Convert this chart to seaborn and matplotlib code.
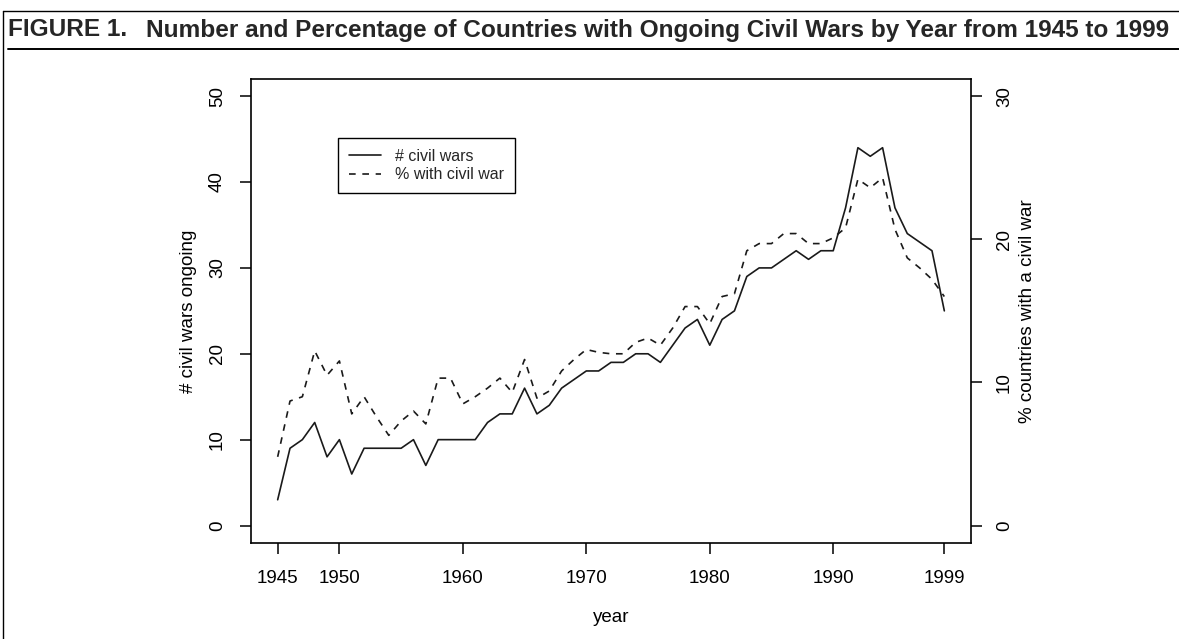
import matplotlib
matplotlib.use('Agg')
import matplotlib.pyplot as plt
import seaborn as sns
import pandas as pd
from matplotlib.lines import Line2D

# ---------------- data ----------------
years = list(range(1945, 2000))
n_civil_wars = [3, 9, 10, 12, 8, 10, 6, 9, 9, 9, 9, 10, 7, 10, 10, 10, 10, 12, 13, 13,
                16, 13, 14, 16, 17, 18, 18, 19, 19, 20, 20, 19, 21, 23, 24, 21, 24, 25,
                29, 30, 30, 31, 32, 31, 32, 32, 37, 44, 43, 44, 37, 34, 33, 32, 25]
pct_with_civil_war = [4.8, 8.7, 9.0, 12.2, 10.5, 11.5, 7.8, 9.0, 7.6, 6.3, 7.3, 8.0, 7.1,
                      10.3, 10.3, 8.5, 9.0, 9.6, 10.3, 9.3, 11.6, 8.9, 9.4, 10.8, 11.6,
                      12.3, 12.1, 12.0, 12.0, 12.8, 13.1, 12.6, 13.8, 15.3, 15.3, 14.1,
                      16.0, 16.2, 19.2, 19.7, 19.7, 20.4, 20.4, 19.7, 19.7, 20.1, 20.8,
                      24.2, 23.6, 24.3, 20.7, 18.7, 18.0, 17.2, 16.0]
x_ticks = [1945, 1950, 1960, 1970, 1980, 1990, 1999]
x_tick_labels = [str(v) for v in x_ticks]
left_ticks = [0, 10, 20, 30, 40, 50]
left_tick_labels = [str(v) for v in left_ticks]
right_ticks = [0, 10, 20, 30]
right_tick_labels = [str(v) for v in right_ticks]
legend_labels = ['# civil wars', '% with civil war']
title_head = 'FIGURE 1.'
title_body = 'Number and Percentage of Countries with Ongoing Civil Wars by Year from 1945 to 1999'

df = pd.DataFrame({'year': years, 'wars': n_civil_wars, 'pct': pct_with_civil_war})

# ---------------- style ----------------
sns.set_style('ticks')
plt.rcParams['font.family'] = ['Liberation Sans', 'DejaVu Sans']

W, H = 1179, 639
fig = plt.figure(figsize=(W / 100, H / 100), dpi=100)
fig.patch.set_facecolor('white')

ax = fig.add_axes([251 / W, 1 - 542.7 / H, 720 / W, 463.7 / H])
line_col = '#1a1a1a'
sns.lineplot(data=df, x='year', y='wars', ax=ax, color=line_col, linewidth=1.2,
             legend=False)
ax2 = ax.twinx()
sns.lineplot(data=df, x='year', y='pct', ax=ax2, color=line_col, linewidth=1.2,
             linestyle=(0, (4, 4)), legend=False)

# R-like ranges (4% padding)
span = years[-1] - years[0]
ax.set_xlim(years[0] - 0.04 * span, years[-1] + 0.04 * span)
ax.set_ylim(left_ticks[0] - 0.04 * (left_ticks[-1] - left_ticks[0]),
            left_ticks[-1] + 0.04 * (left_ticks[-1] - left_ticks[0]))
ax2.set_ylim(right_ticks[0] - 0.04 * (right_ticks[-1] - right_ticks[0]),
             right_ticks[-1] + 0.04 * (right_ticks[-1] - right_ticks[0]))

for s in ax.spines.values():
    s.set_visible(True)
    s.set_linewidth(1.2)
    s.set_color('black')
for s in ax2.spines.values():
    s.set_visible(False)

fs = 13.5
ax.set_xticks(x_ticks)
ax.set_xticklabels(x_tick_labels)
ax.set_yticks(left_ticks)
ax.set_yticklabels(left_tick_labels, rotation=90, va='center')
ax2.set_yticks(right_ticks)
ax2.set_yticklabels(right_tick_labels, rotation=90, va='center')

ax.tick_params(axis='x', direction='out', length=8, width=1.1, labelsize=fs, pad=12,
               colors='black')
ax.tick_params(axis='y', direction='out', length=8, width=1.1, labelsize=fs, pad=10,
               colors='black')
ax2.tick_params(axis='y', direction='out', length=8, width=1.1, labelsize=fs, pad=10,
                colors='black')

ax.set_xlabel('year', fontsize=fs, color='black')
ax.xaxis.set_label_coords(0.5, -0.143)
ax.set_ylabel('# civil wars ongoing', fontsize=fs, color='black')
ax.yaxis.set_label_coords(-0.075, 0.5)
ax2.set_ylabel('% countries with a civil war', fontsize=fs, color='black')
ax2.yaxis.set_label_coords(1.0667, 0.5)

leg = ax.legend(handles=[ax.lines[0], ax2.lines[0]], labels=legend_labels,
                loc='upper left', bbox_to_anchor=(0.121, 0.873), borderaxespad=0,
                frameon=True, fancybox=False, edgecolor='black', framealpha=1,
                fontsize=11.5, handlelength=2.0, handletextpad=0.85, borderpad=0.7,
                labelspacing=0.2)
leg.get_frame().set_linewidth(1.0)

# ---------------- title & frame ----------------
ty = 1 - 30 / H
base = 16
gap = 18
t1 = fig.text(8 / W, ty, title_head, fontsize=base, fontweight='bold', ha='left',
              va='center')
t2 = fig.text(128 / W, ty, title_body, fontsize=base, fontweight='bold', ha='left',
              va='center')
fig.canvas.draw()
r = fig.canvas.get_renderer()
wh = t1.get_window_extent(r).width
wb = t2.get_window_extent(r).width
s = (1170 - 8 - gap) / (wh + wb)
t1.set_fontsize(base * s)
t2.set_fontsize(base * s)
t2.set_x((8 + wh * s + gap) / W)

fig.add_artist(Line2D([3 / W, 1], [1 - 11 / H, 1 - 11 / H], transform=fig.transFigure,
                      color='black', lw=1.0))
fig.add_artist(Line2D([3 / W, 3 / W], [0, 1 - 11 / H], transform=fig.transFigure,
                      color='black', lw=1.0))
fig.add_artist(Line2D([8 / W, 1], [1 - 49 / H, 1 - 49 / H], transform=fig.transFigure,
                      color='black', lw=1.4))

fig.savefig('out.png', dpi=100, facecolor='white')
